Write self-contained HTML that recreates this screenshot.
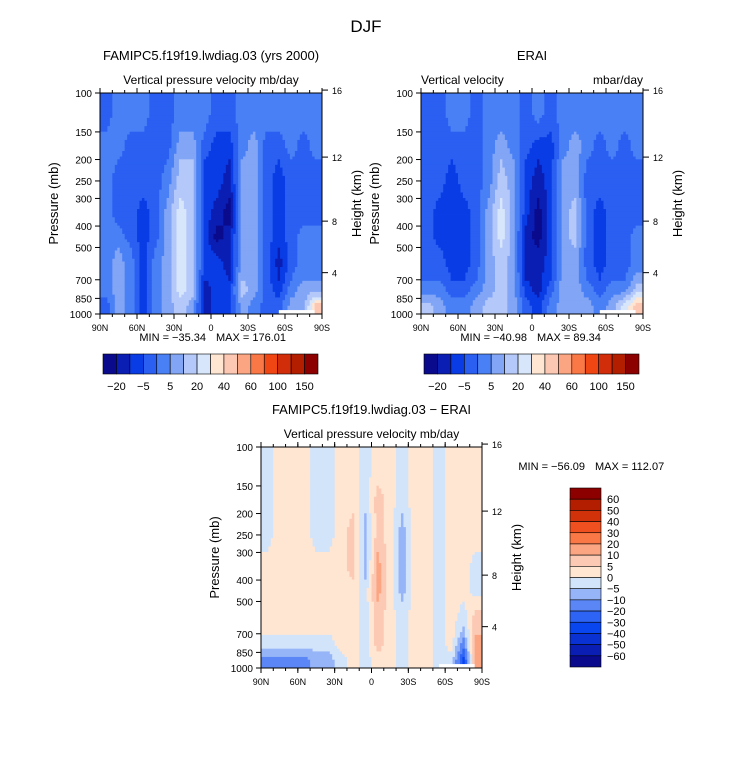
<!DOCTYPE html>
<html><head><meta charset="utf-8"><style>
body{margin:0;background:#fff;}
svg{display:block;font-family:"Liberation Sans",sans-serif;}
</style></head><body>
<svg id="fig" width="733" height="762" viewBox="0 0 733 762" xmlns="http://www.w3.org/2000/svg">
<text x="366" y="32" font-size="17" text-anchor="middle">DJF</text>
</svg>
<script>
// Data arrays (colour-level indices per 10° latitude band 90N->90S, per pressure band 100->1000)
const latTicks = ["90N","60N","30N","0","30S","60S","90S"];
const presTicks = [100,150,200,250,300,400,500,700,850,1000];
const presBands = [100,150,200,300,400,500,700,850,1000];
const hgtTicks = [16,12,8,4];
const hgtPres = [97,195,380,650];
const topBarLabels = ["-20","-5","5","20","40","60","100","150"];
const diffBarLabels = ["60","50","40","30","20","10","5","0","-5","-10","-20","-30","-40","-50","-60"];
const modelGrid = [
[3,4,4,4,3,3,4,4,4,3,3,4,4,4,4,4,4,4],
[4,4,3,3,3,3,5,5,3,2,2,4,5,3,3,4,3,4],
[4,3,3,3,3,4,6,6,2,2,1,5,5,3,2,3,3,3],
[4,3,3,2,3,5,7,6,2,1,0,5,5,3,2,3,3,3],
[4,4,3,2,3,5,7,6,2,0,1,5,5,3,2,3,4,4],
[4,5,4,2,4,5,7,6,2,2,1,5,5,3,1,3,4,4],
[4,5,4,2,4,5,7,6,1,2,2,6,5,3,2,4,5,5],
[3,5,4,2,4,5,6,5,1,2,2,5,4,3,3,5,5,9]];
const obsGrid = [
[3,3,4,4,3,4,4,4,3,4,3,4,4,4,4,4,4,4],
[3,3,3,3,3,4,5,4,3,2,2,4,5,4,3,4,3,4],
[3,3,2,3,3,4,6,5,2,1,2,5,5,3,3,3,3,3],
[3,2,2,2,3,5,7,5,2,0,2,5,6,3,2,3,3,3],
[3,2,2,2,3,5,7,5,1,0,2,5,6,3,2,3,3,4],
[3,3,2,2,3,5,6,5,1,1,2,5,5,3,2,3,3,4],
[4,4,3,3,4,5,6,5,2,1,3,5,5,4,3,4,4,6],
[6,5,4,4,5,6,6,5,3,2,4,5,5,5,4,5,7,9]];
const diffGrid = [
[7,8,8,8,7,7,8,8,7,8,8,7,8,8,7,8,8,8],
[7,8,8,8,7,7,8,8,7,9,8,7,8,8,7,8,8,8],
[7,8,8,8,7,7,8,9,6,9,8,6,8,8,7,8,8,8],
[8,8,8,8,8,8,8,9,6,10,8,6,8,8,7,8,8,7],
[8,8,8,8,8,8,8,8,7,10,8,6,8,8,7,8,8,7],
[8,8,8,8,8,8,8,8,7,9,8,7,8,8,7,8,7,9],
[7,7,7,7,7,7,8,8,7,9,8,7,8,8,7,8,5,10],
[5,5,5,5,6,6,7,8,7,8,8,7,8,8,7,7,3,10]];
const pal16 = ["#0a0a8c","#0a1eb4","#0a3ce6","#2a5ff2","#4a80f5","#82a5f5","#b4c8fa","#d7e6fa","#ffe6d2","#fcc8b4","#fca582","#fa7846","#f04614","#d22d0a","#b41e00","#8c0000"];
const palDiff = ["#0a0a8c","#0a1eb4","#0a32d2","#0a46f0","#2d64f5","#5a87f5","#96b4f8","#d2e4fa","#ffe6d2","#fccab4","#fca582","#fa7846","#f05020","#d2320a","#b41e00","#8c0000"];

const svg = document.getElementById('fig');
const NS = "http://www.w3.org/2000/svg";
function mk(tag, attrs, parent){const e=document.createElementNS(NS,tag);for(const k in attrs)e.setAttribute(k,attrs[k]);(parent||svg).appendChild(e);return e;}
function txt(x,y,s,size,anchor,parent){const t=mk('text',{x:x,y:y,'font-size':size,'text-anchor':anchor||'middle'},parent);t.textContent=s;return t;}

function sample(grid,fc,fr){
  // bilinear sample at fractional column/row (cell-centre coords)
  const nR=grid.length,nC=grid[0].length;
  fc=Math.max(0,Math.min(nC-1,fc)); fr=Math.max(0,Math.min(nR-1,fr));
  const c0=Math.floor(fc),r0=Math.floor(fr),c1=Math.min(nC-1,c0+1),r1=Math.min(nR-1,r0+1);
  const a=fc-c0,b=fr-r0;
  return grid[r0][c0]*(1-a)*(1-b)+grid[r0][c1]*a*(1-b)+grid[r1][c0]*(1-a)*b+grid[r1][c1]*a*b;
}

function panel(id,x0,y0,w,h,grid,pal,title,subL,subR,statMin,statMax,statX,statY){
  const g=mk('g',{});
  
  
  const xs=lat=>x0+(90-lat)/180*w;
  const ys=p=>y0+(Math.log(p)-Math.log(100))/(Math.log(1000)-Math.log(100))*h;
  const nC=grid[0].length,nR=grid.length;
  const field=mk('g',{},g);
  
  
  const NX=90, NY=80;
  const lp0=Math.log(100),lp1=Math.log(1000);
  for(let j=0;j<NY;j++){
    const pm=Math.exp(lp0+(j+0.5)/NY*(lp1-lp0));
    // fractional row from pressure band
    let fr=0;
    for(let r=0;r<nR;r++){
      const pa=presBands[r],pb=presBands[r+1];
      if(pm>=pa&&pm<=pb){fr=r+(Math.log(pm)-Math.log(pa))/(Math.log(pb)-Math.log(pa))-0.5;break;}
    }
    let runStart=0,runLev=null;
    for(let i=0;i<=NX;i++){
      let lev=null;
      if(i<NX){const fc=(i+0.5)/NX*nC-0.5; lev=Math.round(sample(grid,fc,fr));}
      if(lev!==runLev){
        if(runLev!==null){
          const xa=x0+runStart*w/NX,xb=x0+i*w/NX;
          const ya=y0+j*h/NY,yb=y0+(j+1)*h/NY;
          const cell=mk('rect',{x:xa,y:ya,width:xb-xa+0.4,height:yb-ya+0.4,fill:pal[runLev]},field);
          
          
        }
        runStart=i;runLev=lev;
      }
    }
  }
  mk('rect',{x:xs(-55),y:ys(960),width:xs(-84)-xs(-55),height:y0+h-ys(960),fill:'#fff'},g);
  const fr=mk('rect',{x:x0,y:y0,width:w,height:h,fill:'none',stroke:'#000','stroke-width':1},g);
  
  
  latTicks.forEach((s,i)=>{
    const x=x0+i*w/6;
    mk('line',{x1:x,y1:y0+h,x2:x,y2:y0+h+5,stroke:'#000'},g);
    mk('line',{x1:x,y1:y0,x2:x,y2:y0-5,stroke:'#000'},g);
    const t=txt(x,y0+h+17,s,9,'middle',g);
    
    
  });
  for(let k=0;k<=18;k++){const x=x0+k*w/18;
    mk('line',{x1:x,y1:y0+h,x2:x,y2:y0+h+3,stroke:'#000'},g);
    mk('line',{x1:x,y1:y0,x2:x,y2:y0-3,stroke:'#000'},g);}
  presTicks.forEach(p=>{
    const y=ys(p);
    mk('line',{x1:x0,y1:y,x2:x0-5,y2:y,stroke:'#000'},g);
    const t=txt(x0-8,y+4,String(p),10,'end',g);
    
    
  });
  hgtTicks.forEach((hk,i)=>{
    const y=ys(hgtPres[i]);
    mk('line',{x1:x0+w,y1:y,x2:x0+w+6,y2:y,stroke:'#000'},g);
    const t=txt(x0+w+10,y+4,String(hk),9,'start',g);
    
    
  });
  const yl=txt(0,0,'Pressure (mb)',13,'middle',g);
  yl.setAttribute('transform','translate('+(x0-42)+','+(y0+h/2)+') rotate(-90)');
  
  
  const hl=txt(0,0,'Height (km)',13,'middle',g);
  hl.setAttribute('transform','translate('+(x0+w+39)+','+(y0+h/2)+') rotate(-90)');
  
  
  const tt=txt(x0+w/2,y0-33,title,13,'middle',g);
  
  
  if(subR){
    const a=txt(x0,y0-9,subL,12,'start',g);
    
    
    const b=txt(x0+w,y0-9,subR,12,'end',g);
    
    
  } else {
    const a=txt(x0+w/2,y0-9,subL,12,'middle',g);
    
    
  }
  const s1=txt(statX-5,statY,'MIN = \u2212'+statMin,11,'end',g);
  
  
  const s2=txt(statX+5,statY,'MAX = '+statMax,11,'start',g);
  
  
}
function hbar(x0,y0,w,h){
  const g=mk('g',{});
  
  
  const bw=w/16;
  pal16.forEach((c,i)=>{const r=mk('rect',{x:x0+i*bw,y:y0,width:bw,height:h,fill:c,stroke:'#000','stroke-width':0.6},g);
    
    });
  topBarLabels.forEach((s,i)=>{const t=txt(x0+(2*i+1)*bw,y0+h+16,s.replace('-','\u2212'),11,'middle',g);
    
    });
}
function vbar(x0,y0,w,h){
  const g=mk('g',{});
  
  
  const bh=h/16;
  for(let i=0;i<16;i++){
    const r=mk('rect',{x:x0,y:y0+i*bh,width:w,height:bh,fill:palDiff[15-i],stroke:'#000','stroke-width':0.6},g);
    
    
  }
  diffBarLabels.forEach((s,i)=>{const t=txt(x0+w+6,y0+(i+1)*bh+4,s.replace('-','\u2212'),11,'start',g);
    
    });
}
panel('model',100,93,222,221,modelGrid,pal16,'FAMIPC5.f19f19.lwdiag.03 (yrs 2000)','Vertical pressure velocity mb/day',null,'35.34','176.01',211,341);
panel('erai',421,93,222,221,obsGrid,pal16,'ERAI','Vertical velocity','mbar/day','40.98','89.34',532,341);
panel('diff',261,447,221,221,diffGrid,palDiff,'FAMIPC5.f19f19.lwdiag.03 \u2212 ERAI','Vertical pressure velocity mb/day',null,'56.09','112.07',590,470);
hbar(103,354,215,20);
hbar(424,354,215,20);
vbar(570,488,31,179);
</script>
</body></html>
